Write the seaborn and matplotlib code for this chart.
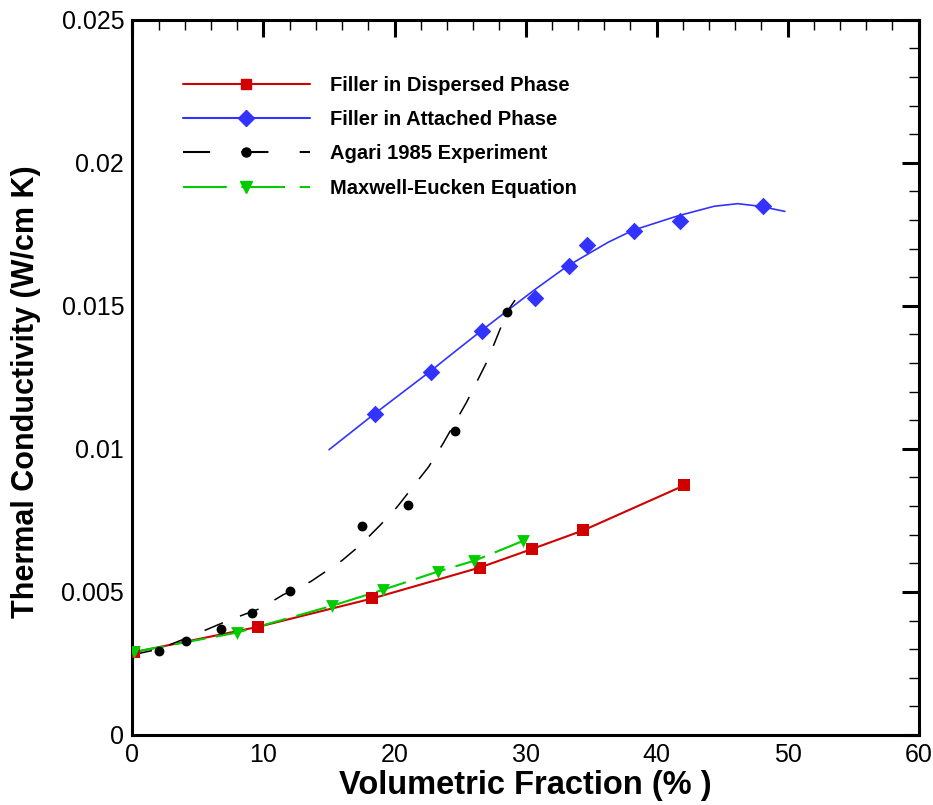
import matplotlib
matplotlib.use("Agg")
import matplotlib.pyplot as plt
from matplotlib.lines import Line2D
from matplotlib.ticker import MultipleLocator, FuncFormatter
import seaborn as sns
import pandas as pd

# Filler in dispersed phase (red, line through points)
disp_x = [0.1, 9.6, 18.3, 26.5, 30.5, 34.4, 42.1]
disp_y = [0.00289, 0.00378, 0.00477, 0.00585, 0.0065, 0.00715, 0.00872]

# Filler in attached phase (blue points + smooth curve)
att_x = [18.5, 22.8, 26.7, 30.7, 33.3, 34.7, 38.3, 41.8, 48.1]
att_y = [0.01123, 0.01269, 0.01412, 0.01527, 0.01639, 0.01712, 0.01762, 0.01796, 0.01848]
att_curve_x = [15, 18.4, 22.7, 24.2, 26.6, 30.6, 33.2, 36.3, 38.2, 41.6, 44.4, 46.2, 47.9, 49.8]
att_curve_y = [0.00997, 0.0112, 0.0127, 0.01325, 0.01412, 0.01553, 0.01639, 0.01722,
               0.01764, 0.01814, 0.01848, 0.01857, 0.01848, 0.0183]

# Agari 1985 experiment (black points + dashed curve)
agari_x = [2.0, 4.1, 6.75, 9.15, 12.0, 17.5, 21.0, 24.6, 28.6]
agari_y = [0.00294, 0.0033, 0.00371, 0.00425, 0.00503, 0.0073, 0.00803, 0.01062, 0.0148]
agari_curve_x = [0, 2, 4.2, 7.3, 9.8, 11.5, 13.6, 16.0, 17.4, 18.9, 20.2, 21.4, 22.6,
                 23.7, 25.5, 27.1, 28.6, 29.2]
agari_curve_y = [0.0028, 0.003, 0.0034, 0.0040, 0.00443, 0.0049, 0.00536, 0.0061, 0.00664,
                 0.00733, 0.00797, 0.00867, 0.00937, 0.01018, 0.01163, 0.01309, 0.0148, 0.0152]

# Maxwell-Eucken equation (green, dashed through points)
me_x = [0.1, 8.0, 15.2, 19.1, 23.3, 26.1, 29.8]
me_y = [0.0029, 0.00358, 0.00451, 0.00507, 0.00571, 0.00609, 0.00678]

labels = ["Filler in Dispersed Phase", "Filler in Attached Phase",
          "Agari 1985 Experiment", "Maxwell-Eucken Equation"]

red = "#d10000"
blue = "#3333ff"
green = "#00cc00"

sns.set_style("white")
plt.rcParams["font.family"] = ["Liberation Sans", "DejaVu Sans"]
plt.rcParams["text.color"] = "black"
plt.rcParams["axes.labelcolor"] = "black"
plt.rcParams["xtick.color"] = "black"
plt.rcParams["ytick.color"] = "black"

fig = plt.figure(figsize=(9.33, 8.05), dpi=100)
ax = fig.add_axes([0.142, 0.087, 0.8425, 0.8885])

df_disp = pd.DataFrame({"x": disp_x, "y": disp_y})
df_att = pd.DataFrame({"x": att_x, "y": att_y})
df_attc = pd.DataFrame({"x": att_curve_x, "y": att_curve_y})
df_ag = pd.DataFrame({"x": agari_x, "y": agari_y})
df_agc = pd.DataFrame({"x": agari_curve_x, "y": agari_curve_y})
df_me = pd.DataFrame({"x": me_x, "y": me_y})

black_ls = (0, (13, 12))
green_ls = (0, (15, 5))

sns.lineplot(data=df_disp, x="x", y="y", color=red, lw=1.5, sort=False, ax=ax)
sns.lineplot(data=df_attc, x="x", y="y", color=blue, lw=1.2, sort=False, ax=ax)
sns.lineplot(data=df_agc, x="x", y="y", color="black", lw=1.1, sort=False, ax=ax, linestyle=black_ls)
sns.lineplot(data=df_me, x="x", y="y", color=green, lw=1.5, sort=False, ax=ax, linestyle=green_ls)

sns.scatterplot(data=df_disp, x="x", y="y", marker="s", s=70, color=red, edgecolor=red, lw=0, ax=ax, zorder=4)
sns.scatterplot(data=df_att, x="x", y="y", marker="D", s=80, color=blue, edgecolor=blue, lw=0, ax=ax, zorder=4)
sns.scatterplot(data=df_ag, x="x", y="y", marker="o", s=50, color="black", edgecolor="black", lw=0, ax=ax, zorder=4)
sns.scatterplot(data=df_me, x="x", y="y", marker="v", s=85, color=green, edgecolor=green, lw=0, ax=ax, zorder=4)

ax.set_xlim(0, 60)
ax.set_ylim(0, 0.025)
ax.xaxis.set_major_locator(MultipleLocator(10))
ax.xaxis.set_minor_locator(MultipleLocator(2))
ax.yaxis.set_major_locator(MultipleLocator(0.005))
ax.yaxis.set_minor_locator(MultipleLocator(0.001))
ax.yaxis.set_major_formatter(FuncFormatter(lambda v, p: "0" if abs(v) < 1e-12 else ("%.3f" % v).rstrip("0")))

for s in ax.spines.values():
    s.set_linewidth(2.2)
    s.set_color("black")
ax.tick_params(which="both", direction="in", top=True, right=True, color="black")
ax.tick_params(which="major", length=12, width=2.2, labelsize=18, pad=6, labelcolor="black")
ax.tick_params(which="minor", length=7, width=1.0)

ax.set_xlabel("Volumetric Fraction (% )", fontsize=23.5, fontweight="bold", labelpad=2)
ax.set_ylabel("Thermal Conductivity (W/cm K)", fontsize=22, fontweight="bold")
ax.yaxis.set_label_coords(-0.116, 0.48)

handles = [
    Line2D([], [], color=red, lw=1.5, marker="s", markersize=7.5),
    Line2D([], [], color=blue, lw=1.5, marker="D", markersize=8),
    Line2D([], [], color="black", lw=1.5, marker="o", markersize=6.5, linestyle=(0, (13, 15))),
    Line2D([], [], color=green, lw=1.5, marker="v", markersize=9, linestyle=(0, (21, 7))),
]
fig.legend(handles, labels, loc="upper left", bbox_to_anchor=(0.196, 0.906),
           frameon=False, prop={"weight": "bold", "size": 14.5},
           handlelength=6.3, handletextpad=1.0, labelspacing=0.76,
           numpoints=1, borderpad=0, borderaxespad=0)

fig.savefig("out.png", dpi=100)
